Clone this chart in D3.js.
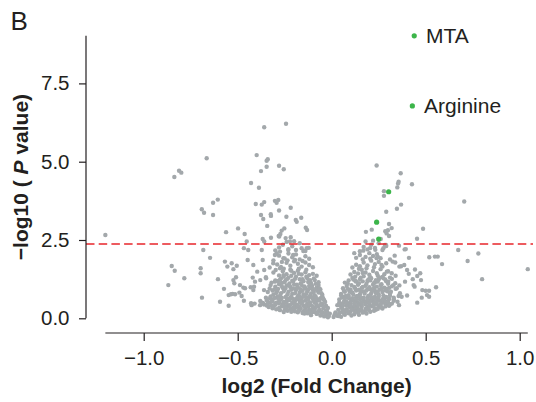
<!DOCTYPE html>
<html>
<head>
<meta charset="utf-8">
<script src="https://cdn.jsdelivr.net/npm/d3@7"></script>
<style>
body { margin: 0; background: #fff; }
svg { display: block; font-family: "Liberation Sans", Arial, Helvetica, sans-serif; }
</style>
</head>
<body>
<script>
// log2 fold change, -log10 p value

// left side, away from the main cloud
const leftOuter = [
  [-1.204,2.66],[-0.851,1.67],[-0.835,1.52],[-0.869,1.06],[-0.837,4.51],[-0.812,4.71],[-0.800,4.65],
  [-0.665,5.11],[-0.606,3.79],[-0.631,3.69],[-0.691,3.48],[-0.679,3.37],[-0.631,3.30],[-0.562,2.75],
  [-0.498,2.87],[-0.463,2.69],[-0.683,2.18],[-0.647,1.93],[-0.784,1.28],[-0.697,1.60],[-0.697,1.44],
  [-0.690,0.66],[-0.605,1.25],[-0.573,0.94],[-0.594,0.53],[-0.548,0.74],[-0.548,0.40],[-0.527,0.78],
  [-0.568,1.81],[-0.555,1.65],[-0.532,1.76],[-0.505,1.68],[-0.523,1.57],[-0.467,2.24],[-0.444,2.18],
  [-0.447,1.86],[-0.417,1.70],[-0.523,1.22],[-0.509,1.31],[-0.518,1.12],[-0.488,1.06],[-0.470,0.98],
  [-0.461,0.96],[-0.431,0.99],[-0.413,1.01],[-0.491,0.82],[-0.479,0.71],[-0.467,0.56],[-0.429,0.48],
  [-0.536,0.77],[-0.514,0.77],[-0.417,0.90],[-0.420,1.30],[-0.408,1.17],[-0.426,0.42],[-0.381,0.42],
  [-0.364,0.48],[-0.328,0.64],[-0.452,2.45]
];

// left arm above and around the cut-off
const leftArm = [
  [-0.359,6.10],[-0.243,6.21],[-0.399,5.21],[-0.346,5.03],[-0.340,5.08],[-0.280,4.87],[-0.346,4.84],
  [-0.376,4.70],[-0.255,4.76],[-0.429,4.32],[-0.387,4.17],[-0.404,3.65],[-0.372,3.63],[-0.359,3.71],
  [-0.302,3.75],[-0.293,3.69],[-0.284,3.78],[-0.376,3.30],[-0.364,3.17],[-0.323,3.27],[-0.324,3.32],
  [-0.280,3.44],[-0.343,2.95],[-0.367,2.53],[-0.323,2.57],[-0.282,2.63],[-0.218,3.53],[-0.241,3.24],
  [-0.162,3.21],[-0.191,3.14],[-0.252,2.87],[-0.266,2.80],[-0.273,2.69],[-0.279,2.61],[-0.138,2.89],
  [-0.131,2.82],[-0.218,2.59],[-0.245,2.56],[-0.359,2.45],[-0.222,2.45],[-0.186,3.08],
  [-0.372,2.18],[-0.367,1.86],[-0.311,1.76],[-0.293,2.08],[-0.275,2.13],[-0.257,1.92],[-0.231,2.18],
  [-0.205,2.02],[-0.302,2.02],[-0.151,2.15],[-0.133,2.24],[-0.122,2.25],[-0.396,1.49],[-0.359,1.54],
  [-0.298,1.54],[-0.349,1.28],[-0.302,1.17],[-0.257,1.38],[-0.275,1.60]
];

// right side, away from the main cloud
const rightOuter = [
  [0.239,4.88],[0.367,4.63],[0.356,4.36],[0.353,4.30],[0.349,4.18],[0.427,4.28],[0.278,4.06],
  [0.278,3.91],[0.705,3.73],[0.369,3.63],[0.347,3.50],[0.290,3.40],[0.305,3.01],[0.319,2.88],
  [0.299,2.81],[0.285,2.78],[0.213,2.83],[0.182,2.76],[0.486,2.86],[0.454,2.54],[0.292,2.71],
  [0.305,2.63],[0.673,2.18],[0.780,2.07],[0.723,1.83],[1.043,1.57],[0.800,1.25],[0.519,1.95],
  [0.549,1.97],[0.564,1.97],[0.587,1.73],[0.388,2.20],[0.411,1.93],[0.386,1.70],[0.360,1.65],
  [0.335,2.00],[0.338,1.78],[0.401,1.54],[0.443,1.56],[0.471,1.44],[0.455,1.35],[0.410,1.42],
  [0.431,1.25],[0.475,1.22],[0.390,1.17],[0.360,1.05],[0.338,1.12],[0.436,1.06],[0.441,1.01],
  [0.482,0.90],[0.500,0.88],[0.518,0.88],[0.555,0.99],[0.507,0.74],[0.518,0.69],[0.401,0.73],
  [0.455,0.50],[0.356,0.71],[0.358,0.42],[0.315,0.85],[0.340,0.94],[0.479,0.66],
  [0.120,2.08],[0.168,2.16],[0.204,2.24],[0.232,2.19],[0.239,1.92],[0.261,2.53],[0.283,2.34],
  [0.324,1.81],[0.358,2.32],[0.394,2.21],[0.369,1.66],[0.301,1.17],[0.310,1.30],[0.293,1.49],
  [0.319,1.44],[0.363,0.80],[0.372,0.69],[0.346,0.96],[0.328,1.06],[0.289,2.34],[0.275,2.24]
];

// dense cloud, left lobe
const leftCore = [
  [-0.02,0.03],[-0.04,0.06],[-0.06,0.09],[-0.03,0.12],[-0.08,0.14],[-0.11,0.10],[-0.13,0.16],[-0.10,0.20],
  [-0.15,0.22],[-0.18,0.19],[-0.07,0.23],[-0.05,0.18],[-0.12,0.27],[-0.17,0.28],[-0.20,0.25],[-0.22,0.30],
  [-0.25,0.27],[-0.09,0.30],[-0.14,0.33],[-0.03,0.25],[-0.01,0.15],[-0.28,0.33],[-0.24,0.36],[-0.19,0.34],
  [-0.03,0.40],[-0.05,0.45],[-0.07,0.38],[-0.09,0.50],[-0.11,0.42],[-0.13,0.47],[-0.15,0.40],[-0.17,0.52],
  [-0.19,0.44],[-0.21,0.49],[-0.23,0.41],[-0.26,0.46],[-0.28,0.53],[-0.30,0.43],[-0.33,0.50],[-0.36,0.44],
  [-0.04,0.58],[-0.06,0.64],[-0.08,0.56],[-0.10,0.62],[-0.12,0.68],[-0.14,0.57],[-0.16,0.63],[-0.18,0.69],
  [-0.20,0.59],[-0.22,0.65],[-0.24,0.56],[-0.27,0.62],[-0.29,0.68],[-0.32,0.60],[-0.35,0.66],[-0.38,0.55],
  [-0.41,0.47],[-0.05,0.69],[-0.09,0.66],[-0.13,0.61],[-0.17,0.36],[-0.25,0.39],[-0.31,0.37],
  [-0.05,0.75],[-0.07,0.82],[-0.09,0.73],[-0.11,0.79],[-0.13,0.86],[-0.15,0.76],[-0.17,0.83],[-0.19,0.90],
  [-0.21,0.78],[-0.23,0.85],[-0.25,0.93],[-0.27,0.80],[-0.29,0.87],[-0.31,0.76],[-0.34,0.84],[-0.06,0.92],
  [-0.08,0.98],[-0.10,0.90],[-0.12,1.03],[-0.14,0.95],[-0.16,1.06],[-0.18,0.99],[-0.20,1.08],[-0.22,1.00],
  [-0.24,1.05],[-0.26,0.97],[-0.28,1.09],[-0.30,1.01],[-0.33,0.95],[-0.36,0.90],[-0.07,1.06],[-0.11,0.96],
  [-0.07,1.15],[-0.09,1.22],[-0.11,1.13],[-0.13,1.28],[-0.15,1.18],[-0.17,1.25],[-0.19,1.33],[-0.21,1.20],
  [-0.23,1.30],[-0.25,1.16],[-0.27,1.27],[-0.30,1.21],[-0.32,1.14],[-0.08,1.36],[-0.10,1.42],[-0.12,1.38],
  [-0.14,1.47],[-0.16,1.40],[-0.18,1.52],[-0.20,1.45],[-0.22,1.55],[-0.24,1.41],[-0.26,1.50],[-0.28,1.37],
  [-0.31,1.46],[-0.35,1.31],[-0.38,1.22],
  [-0.10,1.63],[-0.12,1.70],[-0.14,1.78],[-0.16,1.65],[-0.18,1.74],[-0.20,1.82],[-0.22,1.68],[-0.24,1.77],
  [-0.27,1.64],[-0.29,1.72],[-0.12,1.90],[-0.14,1.98],[-0.17,1.88],[-0.19,2.04],[-0.21,1.95],[-0.23,2.07],
  [-0.25,1.91],[-0.28,2.00],[-0.31,1.85],[-0.33,1.62],
  [-0.14,2.15],[-0.16,2.24],[-0.19,2.18],[-0.21,2.30],[-0.23,2.21],[-0.26,2.35],[-0.28,2.26],[-0.17,2.40],
  [-0.20,2.46],[-0.24,2.44],[-0.30,2.17],
  [-0.025,0.22],[-0.045,0.31],[-0.065,0.27],[-0.085,0.35],[-0.105,0.29],[-0.125,0.37],[-0.145,0.26],
  [-0.165,0.31],[-0.185,0.38],[-0.205,0.33],[-0.225,0.37],[-0.245,0.31],[-0.265,0.38],[-0.035,0.52],
  [-0.055,0.47],[-0.075,0.61],[-0.095,0.55],[-0.115,0.51],[-0.135,0.66],[-0.155,0.53],[-0.175,0.60],
  [-0.195,0.55],[-0.215,0.70],[-0.235,0.63],[-0.255,0.52],[-0.275,0.58],[-0.295,0.50],[-0.315,0.55],
  [-0.055,0.80],[-0.075,0.89],[-0.095,0.84],[-0.115,0.72],[-0.135,0.78],[-0.155,0.88],[-0.175,0.74],
  [-0.195,0.80],[-0.215,0.91],[-0.235,0.77],[-0.255,0.86],[-0.275,0.72],[-0.295,0.81],[-0.315,0.89],
  [-0.085,1.10],[-0.105,1.05],[-0.125,1.16],[-0.145,1.02],[-0.165,1.12],[-0.185,1.07],[-0.205,1.18],
  [-0.225,1.11],[-0.245,1.22],[-0.265,1.13],[-0.285,1.19],[-0.095,1.27],[-0.135,1.33],[-0.175,1.42],
  [-0.215,1.36],[-0.255,1.33],[-0.145,0.15],[-0.085,0.19],[-0.195,0.22],[-0.055,0.11],
  [-0.015,0.07],[-0.035,0.16],[-0.055,0.21],[-0.075,0.17],[-0.095,0.25],[-0.115,0.18],[-0.135,0.22],
  [-0.155,0.17],[-0.175,0.24],[-0.215,0.21],[-0.235,0.24],[-0.255,0.20],[-0.275,0.26],[-0.295,0.29],
  [-0.315,0.32],[-0.335,0.36],[-0.345,0.41],
  [-0.02,0.33],[-0.04,0.37],[-0.06,0.42],[-0.08,0.45],[-0.10,0.38],[-0.12,0.44],[-0.14,0.40],[-0.16,0.47],
  [-0.18,0.42],[-0.20,0.45],[-0.22,0.43],[-0.24,0.49],[-0.26,0.42],[-0.28,0.47],[-0.30,0.47],[-0.32,0.42],
  [-0.34,0.47],[-0.37,0.50],
  [-0.045,0.63],[-0.065,0.57],[-0.085,0.69],[-0.105,0.67],[-0.125,0.59],[-0.145,0.70],[-0.165,0.67],
  [-0.185,0.64],[-0.205,0.62],[-0.225,0.58],[-0.245,0.68],[-0.265,0.66],[-0.285,0.63],[-0.305,0.65],
  [-0.325,0.70],[-0.345,0.58],
  [-0.065,0.95],[-0.085,0.93],[-0.105,0.98],[-0.125,0.92],[-0.145,0.99],[-0.165,0.93],[-0.185,0.96],
  [-0.205,0.95],[-0.225,1.04],[-0.245,0.97],[-0.265,1.02],[-0.285,0.94],[-0.305,0.92],[-0.325,1.06],
  [-0.115,1.22],[-0.155,1.25],[-0.195,1.26],[-0.235,1.26],[-0.275,1.23],[-0.135,1.55],[-0.175,1.58],
  [-0.215,1.52],[-0.255,1.58],[-0.155,1.83],[-0.195,1.86],[-0.235,1.85],[-0.265,1.80]
];

// dense cloud, right lobe
const rightCore = [
  [0.01,0.04],[0.03,0.08],[0.05,0.05],[0.07,0.11],[0.04,0.15],[0.09,0.16],[0.12,0.13],[0.10,0.21],
  [0.14,0.19],[0.16,0.24],[0.06,0.22],[0.02,0.19],[0.13,0.28],[0.18,0.30],[0.20,0.26],[0.23,0.32],
  [0.08,0.29],[0.11,0.34],[0.25,0.36],[0.16,0.37],[0.27,0.31],
  [0.03,0.42],[0.05,0.37],[0.06,0.48],[0.08,0.41],[0.10,0.46],[0.12,0.39],[0.14,0.50],[0.16,0.43],
  [0.18,0.48],[0.20,0.40],[0.22,0.53],[0.24,0.45],[0.27,0.50],[0.29,0.42],[0.32,0.47],[0.35,0.53],
  [0.04,0.60],[0.07,0.55],[0.09,0.65],[0.11,0.58],[0.13,0.67],[0.15,0.60],[0.17,0.56],[0.19,0.66],
  [0.21,0.61],[0.23,0.69],[0.25,0.58],[0.28,0.64],[0.30,0.57],[0.33,0.66],[0.06,0.69],[0.10,0.52],
  [0.19,0.36],[0.26,0.41],
  [0.05,0.78],[0.07,0.85],[0.09,0.74],[0.11,0.82],[0.13,0.89],[0.15,0.77],[0.17,0.86],[0.19,0.93],
  [0.21,0.80],[0.23,0.88],[0.25,0.76],[0.27,0.84],[0.29,0.94],[0.31,0.79],[0.06,0.96],[0.08,1.03],
  [0.10,0.92],[0.12,1.00],[0.14,1.07],[0.16,0.97],[0.18,1.04],[0.20,0.99],[0.22,1.08],[0.24,1.01],
  [0.26,1.06],[0.28,0.98],[0.30,1.10],[0.32,1.02],
  [0.07,1.14],[0.09,1.21],[0.11,1.29],[0.13,1.17],[0.15,1.25],[0.17,1.34],[0.19,1.19],[0.21,1.28],
  [0.23,1.15],[0.25,1.24],[0.27,1.32],[0.29,1.18],[0.32,1.26],[0.10,1.40],[0.12,1.48],[0.14,1.43],
  [0.16,1.55],[0.18,1.46],[0.20,1.39],[0.22,1.51],[0.24,1.44],[0.26,1.57],[0.28,1.41],[0.30,1.50],
  [0.34,1.36],
  [0.11,1.62],[0.13,1.71],[0.15,1.66],[0.17,1.78],[0.19,1.69],[0.21,1.84],[0.23,1.73],[0.25,1.80],
  [0.27,1.65],[0.29,1.76],[0.13,1.93],[0.15,2.02],[0.18,1.96],[0.20,2.08],[0.22,1.99],[0.24,2.05],
  [0.26,1.92],[0.31,1.88],
  [0.15,2.14],[0.17,2.28],[0.19,2.20],[0.21,2.35],[0.23,2.25],[0.25,2.40],[0.27,2.18],[0.18,2.45],
  [0.22,2.48],[0.29,2.31],
  [0.015,0.11],[0.035,0.27],[0.055,0.31],[0.075,0.24],[0.095,0.36],[0.115,0.27],[0.135,0.33],
  [0.155,0.30],[0.175,0.21],[0.195,0.32],[0.215,0.38],[0.235,0.27],[0.045,0.45],[0.065,0.53],
  [0.085,0.47],[0.105,0.60],[0.125,0.55],[0.145,0.45],[0.165,0.63],[0.185,0.52],[0.205,0.57],
  [0.225,0.47],[0.245,0.64],[0.265,0.55],[0.285,0.48],[0.305,0.62],[0.055,0.66],[0.075,0.71],
  [0.095,0.86],[0.115,0.76],[0.135,0.71],[0.155,0.85],[0.175,0.79],[0.195,0.72],[0.215,0.87],
  [0.235,0.81],[0.255,0.92],[0.275,0.73],[0.295,0.86],[0.085,1.11],[0.105,1.06],[0.125,1.20],
  [0.145,1.12],[0.165,1.18],[0.185,1.10],[0.205,1.21],[0.225,1.13],[0.245,1.17],[0.265,1.09],
  [0.285,1.24],[0.125,1.33],[0.165,1.45],[0.205,1.31],[0.245,1.36],[0.275,1.28],[0.065,0.16],
  [0.105,0.09],[0.145,0.11],[0.035,0.07],[0.185,0.15],
  [0.02,0.12],[0.045,0.19],[0.065,0.26],[0.085,0.21],[0.105,0.28],[0.125,0.20],[0.145,0.25],
  [0.165,0.18],[0.185,0.27],[0.205,0.21],[0.225,0.24],[0.245,0.30],[0.265,0.34],[0.285,0.38],
  [0.305,0.40],
  [0.04,0.50],[0.06,0.40],[0.08,0.52],[0.10,0.41],[0.12,0.48],[0.14,0.42],[0.16,0.51],[0.18,0.44],
  [0.20,0.50],[0.22,0.42],[0.24,0.52],[0.26,0.46],[0.28,0.55],[0.30,0.51],[0.33,0.56],[0.31,0.44],
  [0.05,0.73],[0.07,0.63],[0.09,0.69],[0.11,0.64],[0.13,0.60],[0.15,0.69],[0.17,0.66],[0.19,0.59],
  [0.21,0.68],[0.23,0.62],[0.25,0.70],[0.27,0.61],[0.29,0.68],[0.31,0.72],[0.33,0.61],
  [0.065,0.88],[0.085,0.94],[0.105,0.83],[0.125,0.95],[0.145,0.91],[0.165,1.00],[0.185,0.89],
  [0.205,0.93],[0.225,0.97],[0.245,0.85],[0.265,0.96],[0.285,0.90],[0.305,0.97],
  [0.115,1.24],[0.155,1.30],[0.195,1.24],[0.235,1.22],[0.255,1.30],[0.145,1.58],[0.185,1.60],
  [0.225,1.63],[0.265,1.70],[0.165,1.88],[0.205,1.90],[0.245,1.97]
];

// significant metabolites (green)
const hits = [
  { name: "MTA", x: 0.439, y: 9.02 },
  { name: "Arginine", x: 0.429, y: 6.78 },
  { name: "", x: 0.303, y: 4.04 },
  { name: "", x: 0.239, y: 3.07 },
  { name: "", x: 0.250, y: 2.53 }
];

const xTicks = [-1, -0.5, 0, 0.5, 1];
const yTicks = [0, 2.5, 5, 7.5];
const cutoff = 2.37;

const grey = leftOuter.concat(leftArm, rightOuter, leftCore, rightCore);

const width = 536, height = 402;
const x = d3.scaleLinear().domain([-1.25, 1.1]).range([96.7, 538.5]);
const y = d3.scaleLinear().domain([0, 10]).range([318.3, 5.1]);
const axisX = 86, axisY = 333;
const ink = "#231f20";

const svg = d3.select("body").append("svg")
  .attr("width", width)
  .attr("height", height);

svg.append("text")
  .attr("x", 10.5)
  .attr("y", 29.5)
  .style("font-size", "26px")
  .style("fill", ink)
  .text("B");

// points
svg.append("g").selectAll("circle")
  .data(grey)
  .enter()
  .append("circle")
  .attr("cx", d => x(d[0]))
  .attr("cy", d => y(d[1]))
  .attr("r", 2.2)
  .style("fill", "#a3a8ab");

svg.append("line")
  .attr("x1", axisX)
  .attr("x2", 533)
  .attr("y1", y(cutoff))
  .attr("y2", y(cutoff))
  .style("stroke", "#e8262b")
  .style("stroke-width", 1.4)
  .style("stroke-dasharray", "8.5,4.2");

svg.append("g").selectAll("circle")
  .data(hits)
  .enter()
  .append("circle")
  .attr("cx", d => x(d.x))
  .attr("cy", d => y(d.y))
  .attr("r", 2.6)
  .style("fill", "#3cb54a");

svg.append("g").selectAll("text")
  .data(hits.filter(d => d.name))
  .enter()
  .append("text")
  .attr("x", d => x(d.x) + 11.7)
  .attr("y", d => y(d.y))
  .attr("dy", "0.35em")
  .style("font-size", "21px")
  .style("fill", ink)
  .text(d => d.name);

// axes with range frame lines
const xExt = d3.extent(grey.concat(hits.map(d => [d.x, d.y])), d => d[0]);
const yMax = d3.max(hits, d => d.y);

const gx = svg.append("g")
  .attr("transform", `translate(0,${axisY})`)
  .call(d3.axisBottom(x).tickValues(xTicks).tickSize(8).tickPadding(9).tickFormat(d3.format(".1f")));
gx.select(".domain").remove();
gx.append("line")
  .attr("x1", x(xExt[0]))
  .attr("x2", x(xExt[1]))
  .style("stroke", ink);

const gy = svg.append("g")
  .attr("transform", `translate(${axisX},0)`)
  .call(d3.axisLeft(y).tickValues(yTicks).tickSize(7).tickPadding(9.5).tickFormat(d3.format(".1f")));
gy.select(".domain").remove();
gy.append("line")
  .attr("y1", y(0))
  .attr("y2", y(yMax))
  .style("stroke", ink);

svg.selectAll(".tick line").style("stroke", ink);
svg.selectAll(".tick text")
  .style("font-size", "20.5px")
  .style("font-family", "'Liberation Sans', Arial, sans-serif")
  .style("fill", ink);
gx.selectAll("line").style("stroke-width", 1.2);
gy.selectAll("line").style("stroke-width", 1.2);

svg.append("text")
  .attr("x", (x(xExt[0]) + x(xExt[1])) / 2)
  .attr("y", 393)
  .attr("text-anchor", "middle")
  .style("font-size", "21px")
  .style("font-weight", "bold")
  .style("fill", ink)
  .text("log2 (Fold Change)");

const yTitle = svg.append("text")
  .attr("transform", `translate(28.3,${(y(0) + y(yMax)) / 2}) rotate(-90)`)
  .attr("text-anchor", "middle")
  .style("font-size", "21px")
  .style("font-weight", "bold")
  .style("fill", ink);
yTitle.append("tspan").text("\u2212log10 ( ");
yTitle.append("tspan").style("font-style", "italic").text("P");
yTitle.append("tspan").text(" value)");
</script>
</body>
</html>
